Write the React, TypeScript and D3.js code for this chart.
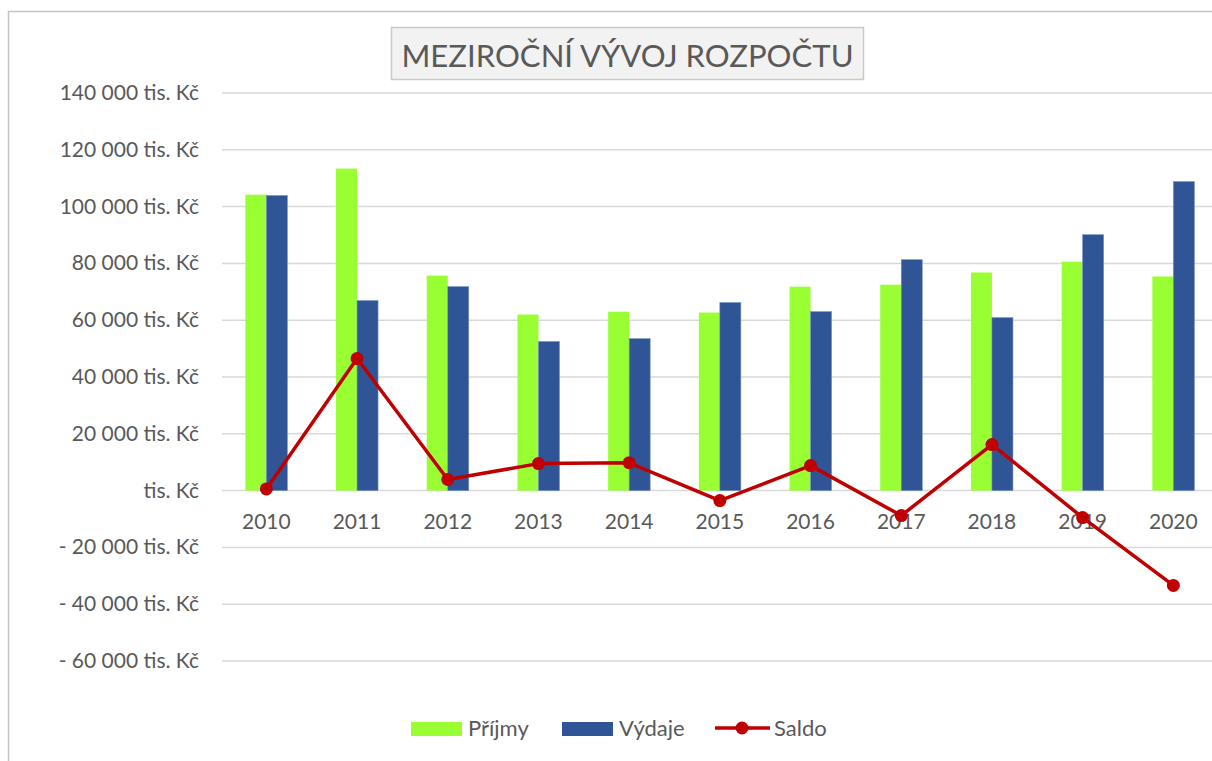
import React from "react";
import * as d3 from "d3";

const years = ["2010","2011","2012","2013","2014","2015","2016","2017","2018","2019","2020"];
const prijmy = [104200, 113400, 75700, 62000, 63000, 62700, 71800, 72500, 76800, 80600, 75400];
const vydaje = [103900, 66900, 71800, 52500, 53500, 66200, 63000, 81300, 60900, 90100, 108800];
const saldo = [600, 46500, 3900, 9500, 9800, -3500, 8800, -8800, 16200, -9500, -33400];
const yTicks = [140000, 120000, 100000, 80000, 60000, 40000, 20000, 0, -20000, -40000, -60000];

const W = 1212, H = 761;
const FONT = "Lato, 'Open Sans', sans-serif";
const TXT = "#595959";

function fmt(v: number) {
  if (v === 0) return "tis. Kč";
  const a = Math.abs(v);
  const s = d3.format(",")(a).replace(/,/g, " ");
  return (v < 0 ? "- " : "") + s + " tis. Kč";
}

export default function App() {
  const left = 221, right = 1218.7;
  const x = d3.scaleBand<string>().domain(years).range([left, right]).paddingInner(0).paddingOuter(0);
  const y = d3.scaleLinear().domain([-60000, 140000]).range([661, 93]);
  const barW = 21;
  const bw = x.bandwidth();
  const cx = (yr: string) => (x(yr) as number) + bw / 2;
  const line = d3.line<number>().x((_, i) => cx(years[i])).y(d => y(d));

  return (
    <svg width={W} height={H} style={{ position: "absolute", left: 0, top: 0, background: "#fff" }} fontFamily={FONT}>
      <rect x={0} y={0} width={W} height={H} fill="#fff" />
      {/* outer border */}
      <path d={`M8.5,${H} V11.5 H${W}`} fill="none" stroke="#c4c4c4" strokeWidth={1.5} />
      {/* title */}
      <rect x={391.5} y={27.5} width={472} height={52} fill="#f2f2f2" stroke="#c9c9c9" strokeWidth={1.5} />
      <text x={627.5} y={67} textAnchor="middle" fontSize={31} fill={TXT} textLength={452} lengthAdjust="spacingAndGlyphs">MEZIROČNÍ VÝVOJ ROZPOČTU</text>
      {/* gridlines + y labels */}
      {yTicks.map(t => (
        <g key={t}>
          <line x1={left + 1} x2={W} y1={y(t)} y2={y(t)} stroke="#d9d9d9" strokeWidth={1.5} />
          <text x={199} y={y(t) + 7} textAnchor="end" fontSize={21} fill={TXT}>{fmt(t)}</text>
        </g>
      ))}
      {/* bars */}
      {years.map((yr, i) => (
        <g key={yr}>
          <rect x={cx(yr) - barW} y={y(prijmy[i])} width={barW} height={y(0) - y(prijmy[i])} fill="#99ff33" />
          <rect x={cx(yr)} y={y(vydaje[i])} width={barW} height={y(0) - y(vydaje[i])} fill="#2f5597" stroke="#6f8fc4" strokeWidth={0.6} />
        </g>
      ))}
      {/* x labels */}
      {years.map(yr => (
        <text key={yr} x={cx(yr)} y={529} textAnchor="middle" fontSize={21} fill={TXT}>{yr}</text>
      ))}
      {/* saldo line */}
      <path d={line(saldo) || ""} fill="none" stroke="#c00000" strokeWidth={3.5} strokeLinejoin="round" />
      {saldo.map((v, i) => (
        <circle key={i} cx={cx(years[i])} cy={y(v)} r={6.5} fill="#c00000" />
      ))}
      {/* legend */}
      <rect x={411} y={722} width={51} height={14} fill="#99ff33" />
      <text x={468} y={736} fontSize={22} fill={TXT}>Příjmy</text>
      <rect x={562} y={722} width={51} height={14} fill="#2f5597" />
      <text x={619} y={736} fontSize={22} fill={TXT}>Výdaje</text>
      <line x1={715} x2={770} y1={728} y2={728} stroke="#c00000" strokeWidth={3.5} />
      <circle cx={742} cy={728} r={6.5} fill="#c00000" />
      <text x={774} y={736} fontSize={22} fill={TXT}>Saldo</text>
    </svg>
  );
}
